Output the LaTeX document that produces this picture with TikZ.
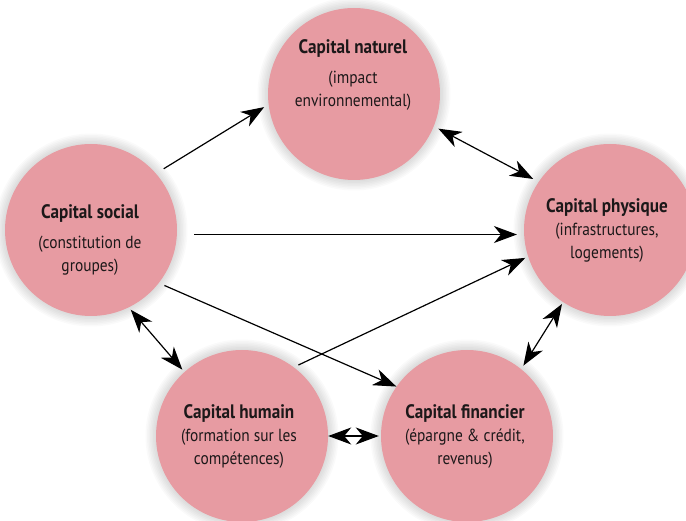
\documentclass[tikz,border=0pt]{standalone}
\usepackage{fontspec}
\setmainfont{PT Sans}[FakeStretch=0.88]
\usetikzlibrary{arrows.meta}
\definecolor{mpink}{RGB}{231,155,162}
\definecolor{mtext}{RGB}{28,24,25}
\newcommand{\captitle}[1]{{\fontsize{19.5}{23}\selectfont\bfseries #1}}
\tikzset{capital/.style = {circle, fill=mpink, minimum size=172pt, inner sep=0pt},
         halo/.style = {fill=black, opacity=0.02},
         captext/.style = {align=center, text=mtext, font=\fontsize{17.5}{23}\selectfont},
         tip/.tip = {Stealth[length=23pt, width=17pt, inset=7pt]},
         oneway/.style = {line width=1.2pt, -tip},
         twoway/.style = {line width=1.2pt, tip-tip}}

\begin{document}
\begin{tikzpicture}[x=1pt, y=-1pt]
    \useasboundingbox (0, 0) rectangle (686, 521);

    % soft glow round the circles
    \foreach \cx/\cy in {354/94, 91/230, 610/230, 242/436, 467/436}
      \foreach \r in {87.5, 89, ..., 96.5}
        \fill [halo] (\cx, \cy) circle (\r);

    \node [capital] (naturel) at (354, 94) {};
    \node [capital] (social) at (91, 230) {};
    \node [capital] (physique) at (610, 230) {};
    \node [capital] (humain) at (242, 436) {};
    \node [capital] (financier) at (467, 436) {};

    \node [captext] (naturel-t) at (353, 75) {\captitle{Capital naturel}\\[7pt](impact\\environnemental)};
    \node [captext] (social-t) at (90, 240) {\captitle{Capital social}\\[7pt](constitution de\\groupes)};
    \node [captext] (physique-t) at (607, 230) {\captitle{Capital physique}\\(infrastructures,\\logements)};
    \node [captext] (humain-t) at (239, 436) {\captitle{Capital humain}\\(formation sur les\\compétences)};
    \node [captext] (financier-t) at (465, 436) {\captitle{Capital financier}\\(épargne \& crédit,\\revenus)};

    \draw [oneway, shorten <=9pt, shorten >=5pt] (social.41) -- (naturel.187);
    \draw [oneway, shorten <=17pt, shorten >=7pt] (social.-3) -- (physique.183);
    \draw [oneway, shorten <=6pt] (social.-38.4) -- (financier.145);
    \draw [oneway, shorten <=5pt, shorten >=3pt] (humain.53) -- (physique.198.8);

    \draw [twoway, shorten <=5pt, shorten >=6pt] (naturel.-22.6) -- (physique.146);
    \draw [twoway, shorten <=3pt, shorten >=3pt] (social.-64.6) -- (humain.132.7);
    \draw [twoway, shorten <=2pt, shorten >=4pt] (physique.237.6) -- (financier.51.3);
    \draw [twoway, shorten >=2pt] (humain.0) -- (financier.180);
  \end{tikzpicture}
\end{document}
